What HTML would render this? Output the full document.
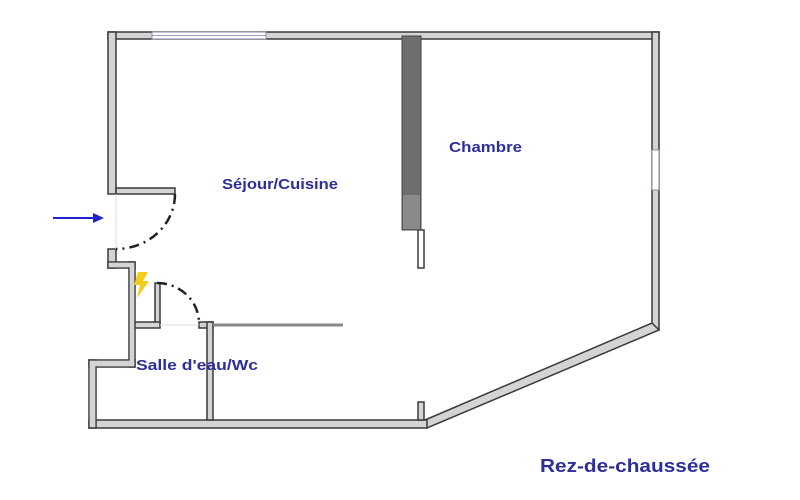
<!DOCTYPE html>
<html><head><meta charset="utf-8"><style>
html,body{margin:0;padding:0;background:#fff;}
svg{display:block}
text{font-family:"Liberation Sans",Arial,sans-serif;font-weight:bold;fill:#2e2e9a}
</style></head><body>
<svg width="800" height="500" viewBox="0 0 800 500" xmlns="http://www.w3.org/2000/svg">
<g fill="#d4d4d4" stroke="#3a3a3a" stroke-width="1.5">
<rect x="108" y="32" width="551" height="7"/>
<rect x="652" y="32" width="7" height="298"/>
<polygon points="652,323 659,330 427,428 425,420"/>
<rect x="89" y="420" width="338" height="8"/>
<rect x="108" y="32" width="8" height="162"/>
<rect x="116" y="188" width="59" height="6"/>
<!-- left lower -->
<rect x="108" y="249" width="8" height="19"/>
<rect x="108" y="262" width="27" height="6"/>
<rect x="129" y="262" width="6" height="105"/>
<rect x="89" y="360" width="46" height="7"/>
<rect x="89" y="360" width="7" height="68"/>
<!-- bathroom partition -->
<rect x="155" y="283" width="5" height="40"/>
<rect x="135" y="322" width="25" height="6"/>
<rect x="199" y="322" width="14" height="6"/>
<rect x="207" y="322" width="6" height="98"/>
<rect x="418" y="402" width="6" height="18"/>
<rect x="418" y="230" width="6" height="38" fill="#fff"/>
</g>
<rect x="129.75" y="267" width="4.5" height="99" fill="#d4d4d4"/>
<rect x="89.75" y="360.75" width="44.5" height="5.5" fill="#d4d4d4"/>
<rect x="89.75" y="361" width="5.5" height="66" fill="#d4d4d4"/>
<rect x="108.75" y="262.75" width="25.5" height="4.5" fill="#d4d4d4"/>
<rect x="152" y="32" width="114" height="7" fill="#fff" stroke="#88a" stroke-width="1"/>
<line x1="152" y1="35.5" x2="266" y2="35.5" stroke="#99c" stroke-width="1"/>
<rect x="652" y="150" width="7" height="40" fill="#fff" stroke="#88a" stroke-width="1"/>
<rect x="402" y="36" width="19" height="194" fill="#6e6e6e" stroke="#444" stroke-width="1"/>
<rect x="403" y="195" width="17" height="34" fill="#8a8a8a"/>
<line x1="213" y1="325" x2="343" y2="325" stroke="#888" stroke-width="3"/>
<line x1="116" y1="194" x2="116" y2="249" stroke="#ddd" stroke-width="1"/>
<line x1="160" y1="325" x2="199" y2="325" stroke="#ddd" stroke-width="1"/>
<path d="M175,194 A59,55 0 0 1 116,249" fill="none" stroke="#222" stroke-width="2.5" stroke-dasharray="10,5,2,5"/>
<path d="M157,283 A42,40 0 0 1 199,323" fill="none" stroke="#222" stroke-width="2.5" stroke-dasharray="10,5,2,5"/>
<line x1="53" y1="218" x2="95" y2="218" stroke="#2222cc" stroke-width="2"/>
<polygon points="104,218 93,213 93,223" fill="#2222cc"/>
<polygon points="138,272 148,272 143,281 149,281 137,298 140,285 134,285" fill="#f2cc1a"/>
<text x="222" y="189" font-size="15" textLength="116" lengthAdjust="spacingAndGlyphs">Séjour/Cuisine</text>
<text x="449" y="152" font-size="15" textLength="73" lengthAdjust="spacingAndGlyphs">Chambre</text>
<text x="136" y="370" font-size="15" textLength="122" lengthAdjust="spacingAndGlyphs">Salle d'eau/Wc</text>
<text x="540" y="472" font-size="18" textLength="170" lengthAdjust="spacingAndGlyphs">Rez-de-chaussée</text>
</svg>
</body></html>
